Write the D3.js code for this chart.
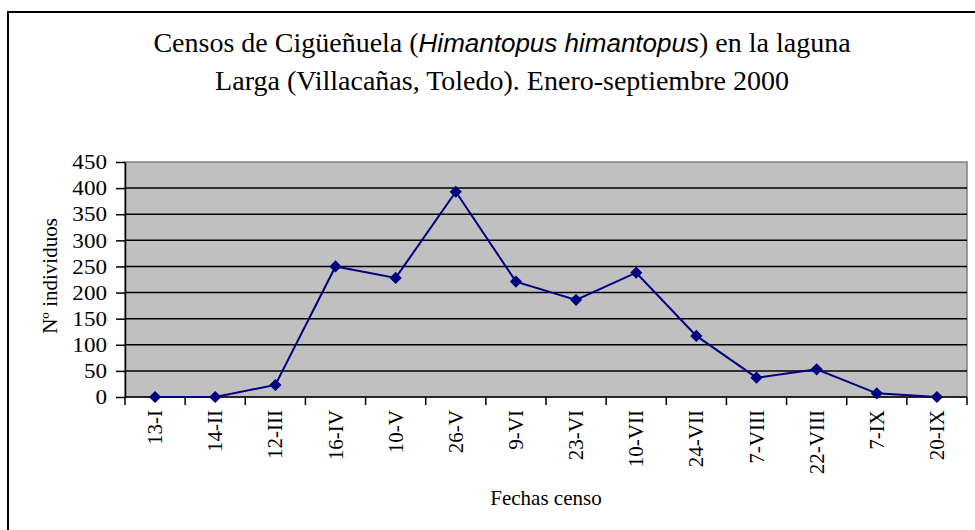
<!DOCTYPE html>
<html>
<head>
<meta charset="utf-8">
<script src="https://cdn.jsdelivr.net/npm/d3@7"></script>
<style>
  body { margin: 0; background: #fff; }
  text { font-family: "Liberation Serif", "Times New Roman", serif; fill: #000; }
</style>
</head>
<body>
<svg id="chart" width="975" height="530"></svg>
<script>
// census dates and counts
var fechas = ["13-I", "14-II", "12-III", "16-IV", "10-V", "26-V", "9-VI", "23-VI",
              "10-VII", "24-VII", "7-VIII", "22-VIII", "7-IX", "20-IX"]
var individuos = [0, 0, 23, 250, 228, 393, 221, 186, 238, 117, 37, 53, 7, 0]
var yTicks = [0, 50, 100, 150, 200, 250, 300, 350, 400, 450]

var svg = d3.select("#chart")
var W = 975, H = 530
var m = {left: 125, right: 8, top: 162, bottom: 133}

// outer frame (runs off the right and bottom edges, like the reference crop)
svg.append("rect")
    .attr("x", 8).attr("y", 12)
    .attr("width", W + 20).attr("height", H + 20)
    .attr("fill", "#fff").attr("stroke", "#000").attr("stroke-width", 2)

var x = d3.scaleBand().domain(fechas).range([m.left, W - m.right])
var y = d3.scaleLinear().domain([0, 450]).range([H - m.bottom, m.top])

// plot background
svg.append("rect")
    .attr("x", m.left).attr("y", m.top)
    .attr("width", W - m.right - m.left).attr("height", H - m.bottom - m.top)
    .attr("fill", "#c0c0c0").attr("stroke", "#808080").attr("stroke-width", 1.5)

// grid lines
svg.append("g").selectAll("line")
    .data(yTicks.filter(function(d) { return d > 0 && d < 450 }))
    .join("line")
    .attr("x1", m.left).attr("x2", W - m.right)
    .attr("y1", function(d) { return y(d) }).attr("y2", function(d) { return y(d) })
    .attr("stroke", "#000").attr("stroke-width", 1.5)

// y axis (labels a bit wider, as in the reference)
var yAxis = svg.append("g")
    .attr("transform", "translate(" + m.left + ",0)")
    .call(d3.axisLeft(y).tickValues(yTicks).tickSizeInner(9).tickSizeOuter(0).tickPadding(7.4))
yAxis.selectAll("text")
    .style("font-size", "21px")
    .attr("fill", "#000")
    .attr("transform", "scale(1.1,1)")
yAxis.selectAll("line, path").attr("stroke", "#000").attr("stroke-width", 1.5)

// x axis: ticks between categories
var xAxisG = svg.append("g")
    .attr("transform", "translate(0," + (H - m.bottom) + ")")
xAxisG.append("line")
    .attr("x1", m.left).attr("x2", W - m.right)
    .attr("stroke", "#000").attr("stroke-width", 1.5)
var bounds = fechas.map(function(d) { return x(d) }).concat([x(fechas[fechas.length - 1]) + x.bandwidth()])
xAxisG.selectAll("line.tk")
    .data(bounds)
    .join("line")
    .attr("class", "tk")
    .attr("x1", function(d) { return d }).attr("x2", function(d) { return d })
    .attr("y1", 0).attr("y2", 8)
    .attr("stroke", "#000").attr("stroke-width", 1.5)
xAxisG.selectAll("text")
    .data(fechas)
    .join("text")
    .attr("transform", function(d) {
        return "translate(" + (x(d) + x.bandwidth() / 2 + 7) + ",13) rotate(-90)"
    })
    .attr("text-anchor", "end")
    .style("font-size", "21px")
    .text(function(d) { return d })

// line and markers
var cx = function(d, i) { return x(fechas[i]) + x.bandwidth() / 2 }
var line = d3.line()
    .x(cx)
    .y(function(d) { return y(d) })
svg.append("path")
    .datum(individuos)
    .attr("d", line)
    .attr("fill", "none")
    .attr("stroke", "#000080")
    .attr("stroke-width", 2)

svg.append("g").selectAll("path")
    .data(individuos)
    .join("path")
    .attr("d", d3.symbol().type(d3.symbolDiamond2).size(95))
    .attr("transform", function(d, i) { return "translate(" + cx(d, i) + "," + y(d) + ")" })
    .attr("fill", "#000080")

// titles
var title = svg.append("text")
    .attr("x", 502).attr("y", 52)
    .attr("text-anchor", "middle")
    .style("font-size", "28px")
title.append("tspan").text("Censos de Cigüeñuela (")
title.append("tspan")
    .style("font-family", "'Liberation Sans', Arial, sans-serif")
    .style("font-style", "italic")
    .style("font-size", "26px")
    .text("Himantopus himantopus")
title.append("tspan").text(") en la laguna")
svg.append("text")
    .attr("x", 502).attr("y", 90)
    .attr("text-anchor", "middle")
    .style("font-size", "28px")
    .text("Larga (Villacañas, Toledo). Enero-septiembre 2000")

svg.append("text")
    .attr("transform", "translate(57,276) rotate(-90)")
    .attr("text-anchor", "middle")
    .style("font-size", "21px")
    .text("Nº individuos")

svg.append("text")
    .attr("x", (m.left + W - m.right) / 2).attr("y", 505)
    .attr("text-anchor", "middle")
    .style("font-size", "21px")
    .text("Fechas censo")
</script>
</body>
</html>
